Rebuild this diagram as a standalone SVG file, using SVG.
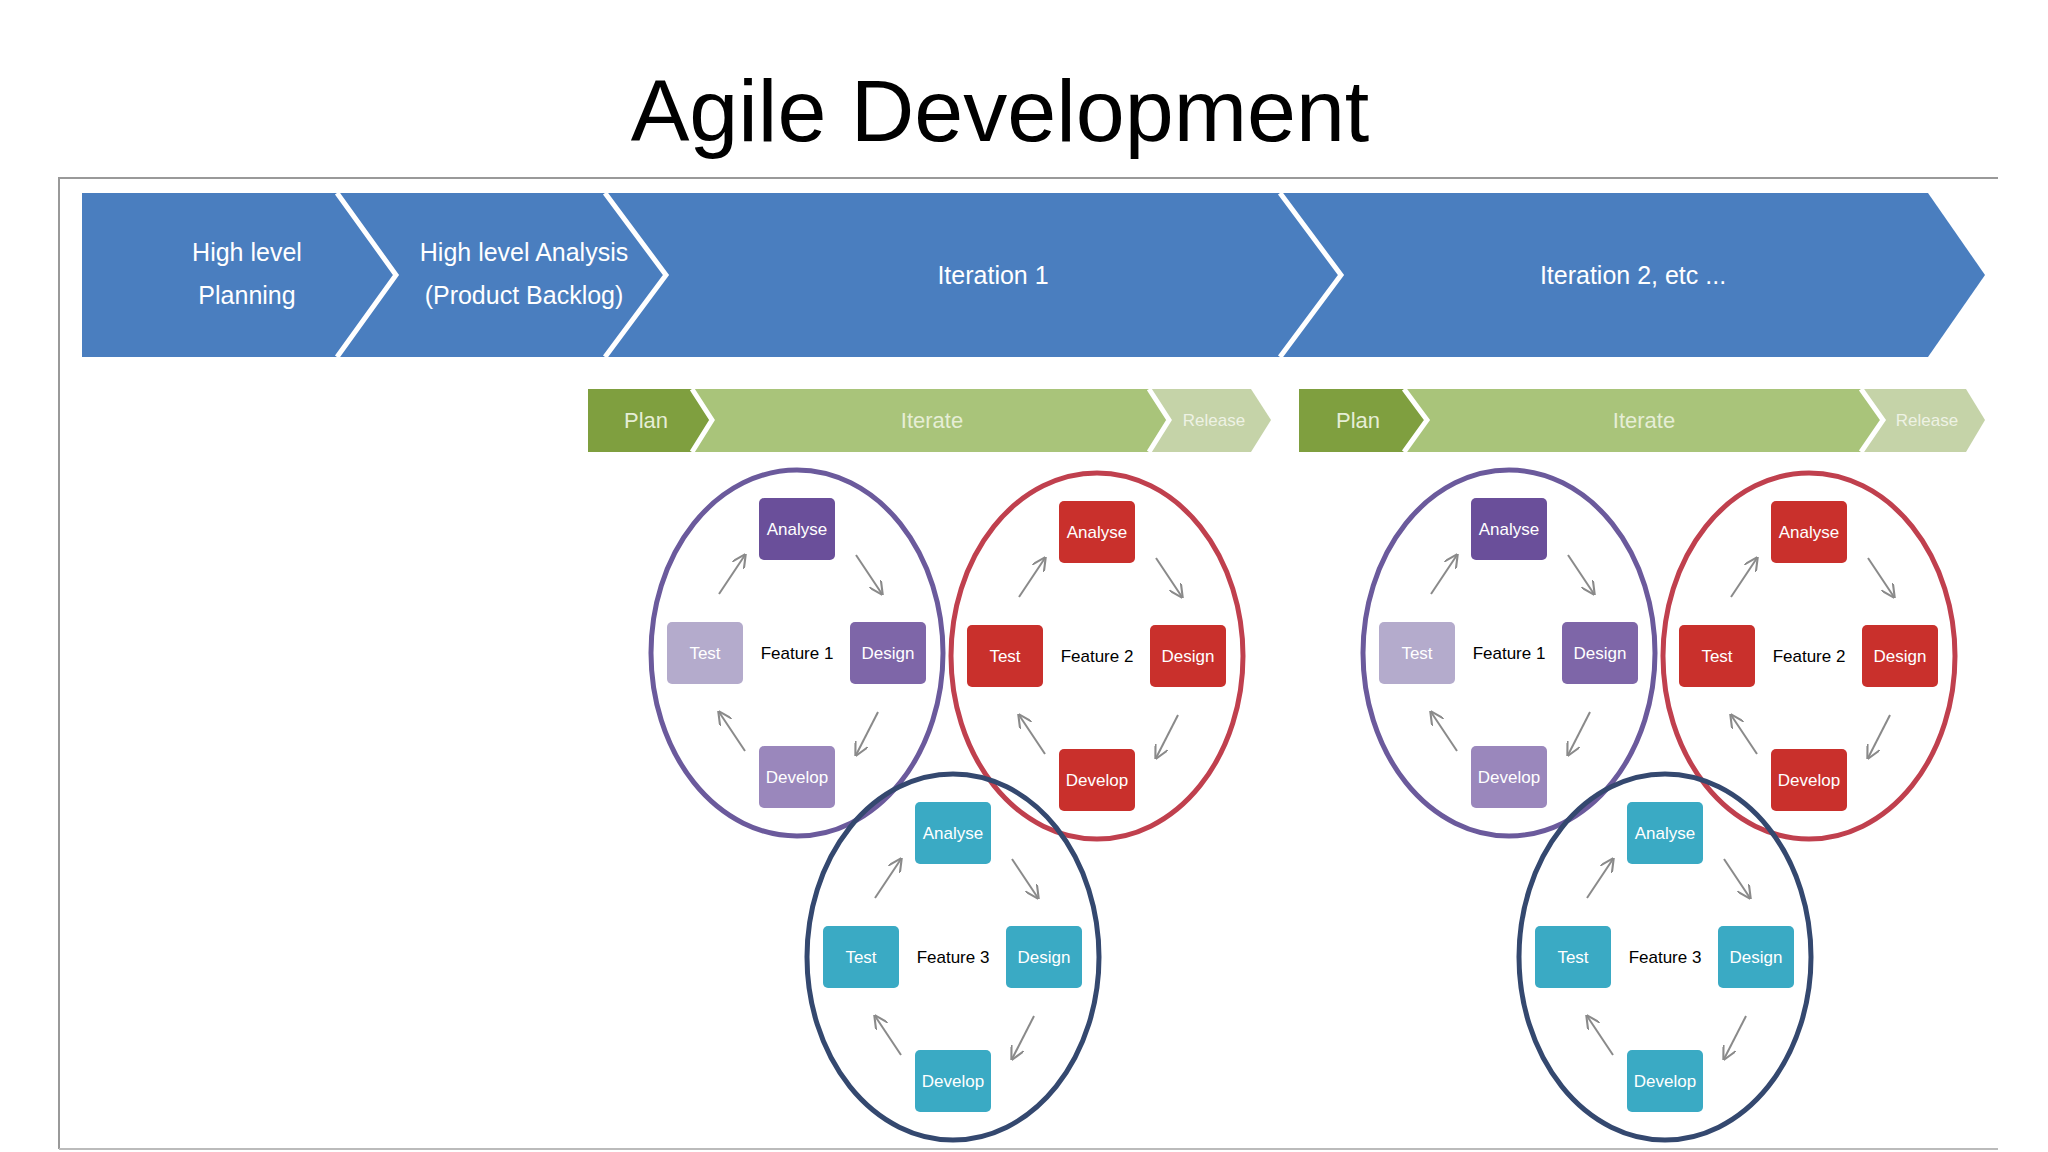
<svg xmlns="http://www.w3.org/2000/svg" width="2048" height="1152" viewBox="0 0 2048 1152">
<style>
text{font-family:"Liberation Sans",Arial,sans-serif}
.t{font-size:88px;fill:#000}
.bl{fill:#4a7ebf}
.bt{font-size:25px;fill:#fff;text-anchor:middle}
.gt{font-size:22px;fill:#e6eed6;text-anchor:middle}
.rl{font-size:17px;fill:#eef2e4;text-anchor:middle}
.sep{fill:none;stroke:#fff;stroke-width:5}
.bx{font-size:17px;fill:#fff;text-anchor:middle}
.ft{font-size:17px;fill:#000;text-anchor:middle}
.ar{stroke:#8a8a8a;stroke-width:2;fill:none;marker-end:url(#ah)}
.c{fill:none;stroke-width:5}
</style>
<defs>
<marker id="ah" viewBox="0 0 10 10" refX="9" refY="5" markerWidth="7" markerHeight="7" orient="auto"><path d="M0,0 L10,5 L0,10" fill="none" stroke="#8a8a8a" stroke-width="1.5"/></marker>
<g id="arrows">
<line class="ar" x1="-78" y1="-59" x2="-52" y2="-98"/>
<line class="ar" x1="59" y1="-98" x2="85" y2="-59"/>
<line class="ar" x1="81" y1="59" x2="59" y2="102"/>
<line class="ar" x1="-52" y1="98" x2="-78" y2="59"/>
</g>
</defs>
<rect width="2048" height="1152" fill="#fff"/>
<text class="t" x="1000" y="141" text-anchor="middle">Agile Development</text>
<path d="M59,1149 V178 H1998" fill="none" stroke="#999" stroke-width="2"/>
<line x1="59" y1="1149" x2="1998" y2="1149" stroke="#bbb" stroke-width="2"/>

<g id="phases">
<polygon class="bl" points="82,193 1928,193 1985,275 1928,357 82,357"/>
<polyline class="sep" points="337,193 396,275 337,357"/>
<polyline class="sep" points="605,193 666,275 605,357"/>
<polyline class="sep" points="1280,193 1341,275 1280,357"/>
<text class="bt" x="247" y="261">High level</text>
<text class="bt" x="247" y="304">Planning</text>
<text class="bt" x="524" y="261">High level Analysis</text>
<text class="bt" x="524" y="304">(Product Backlog)</text>
<text class="bt" x="993" y="284">Iteration 1</text>
<text class="bt" x="1633" y="284">Iteration 2, etc ...</text>
</g>

<g id="iter1-bar">
<polygon fill="#c5d3a8" points="1140,389 1251,389 1271,420 1251,452 1140,452"/>
<polygon fill="#a9c47a" points="692,389 1149,389 1169,420 1149,452 692,452 712,420"/>
<polygon fill="#7f9f3f" points="588,389 692,389 712,420 692,452 588,452"/>
<polyline class="sep" points="1149,389 1169,420 1149,452" stroke-width="3"/>
<polyline class="sep" points="692,389 712,420 692,452" stroke-width="3"/>
<text class="gt" x="646" y="428">Plan</text>
<text class="gt" x="932" y="428">Iterate</text>
<text class="rl" x="1214" y="426">Release</text>
</g>
<g id="iter2-bar">
<polygon fill="#c5d3a8" points="1850,389 1966,389 1985,420 1966,452 1850,452"/>
<polygon fill="#a9c47a" points="1404,389 1861,389 1883,420 1861,452 1404,452 1427,420"/>
<polygon fill="#7f9f3f" points="1299,389 1404,389 1427,420 1404,452 1299,452"/>
<polyline class="sep" points="1861,389 1883,420 1861,452" stroke-width="3"/>
<polyline class="sep" points="1404,389 1427,420 1404,452" stroke-width="3"/>
<text class="gt" x="1358" y="428">Plan</text>
<text class="gt" x="1644" y="428">Iterate</text>
<text class="rl" x="1927" y="426">Release</text>
</g>

<g id="circles">
<ellipse class="c" cx="797" cy="653" rx="146" ry="183" stroke="#6b5a9c"/>
<ellipse class="c" cx="1097" cy="656" rx="146" ry="183" stroke="#c0404e"/>
<ellipse class="c" cx="953" cy="957" rx="146" ry="183" stroke="#34486f"/>
<ellipse class="c" cx="1509" cy="653" rx="146" ry="183" stroke="#6b5a9c"/>
<ellipse class="c" cx="1809" cy="656" rx="146" ry="183" stroke="#c0404e"/>
<ellipse class="c" cx="1665" cy="957" rx="146" ry="183" stroke="#34486f"/>
</g>

<g id="connectors">
<use href="#arrows" transform="translate(797,653)"/>
<use href="#arrows" transform="translate(1097,656)"/>
<use href="#arrows" transform="translate(953,957)"/>
<use href="#arrows" transform="translate(1509,653)"/>
<use href="#arrows" transform="translate(1809,656)"/>
<use href="#arrows" transform="translate(1665,957)"/>
</g>

<g id="i1-feature1" transform="translate(797,653)">
<rect x="-38" y="-155" width="76" height="62" rx="5" fill="#6a4f9a"/><text class="bx" y="-118">Analyse</text>
<rect x="53" y="-31" width="76" height="62" rx="5" fill="#7e66a8"/><text class="bx" x="91" y="6">Design</text>
<rect x="-38" y="93" width="76" height="62" rx="5" fill="#9a87bc"/><text class="bx" y="130">Develop</text>
<rect x="-130" y="-31" width="76" height="62" rx="5" fill="#b4abcc"/><text class="bx" x="-92" y="6">Test</text>
<text class="ft" y="6">Feature 1</text>
</g>
<g id="i1-feature2" transform="translate(1097,656)">
<rect x="-38" y="-155" width="76" height="62" rx="5" fill="#c9302c"/><text class="bx" y="-118">Analyse</text>
<rect x="53" y="-31" width="76" height="62" rx="5" fill="#c9302c"/><text class="bx" x="91" y="6">Design</text>
<rect x="-38" y="93" width="76" height="62" rx="5" fill="#c9302c"/><text class="bx" y="130">Develop</text>
<rect x="-130" y="-31" width="76" height="62" rx="5" fill="#c9302c"/><text class="bx" x="-92" y="6">Test</text>
<text class="ft" y="6">Feature 2</text>
</g>
<g id="i1-feature3" transform="translate(953,957)">
<rect x="-38" y="-155" width="76" height="62" rx="5" fill="#3aaac4"/><text class="bx" y="-118">Analyse</text>
<rect x="53" y="-31" width="76" height="62" rx="5" fill="#3aaac4"/><text class="bx" x="91" y="6">Design</text>
<rect x="-38" y="93" width="76" height="62" rx="5" fill="#3aaac4"/><text class="bx" y="130">Develop</text>
<rect x="-130" y="-31" width="76" height="62" rx="5" fill="#3aaac4"/><text class="bx" x="-92" y="6">Test</text>
<text class="ft" y="6">Feature 3</text>
</g>
<g id="i2-feature1" transform="translate(1509,653)">
<rect x="-38" y="-155" width="76" height="62" rx="5" fill="#6a4f9a"/><text class="bx" y="-118">Analyse</text>
<rect x="53" y="-31" width="76" height="62" rx="5" fill="#7e66a8"/><text class="bx" x="91" y="6">Design</text>
<rect x="-38" y="93" width="76" height="62" rx="5" fill="#9a87bc"/><text class="bx" y="130">Develop</text>
<rect x="-130" y="-31" width="76" height="62" rx="5" fill="#b4abcc"/><text class="bx" x="-92" y="6">Test</text>
<text class="ft" y="6">Feature 1</text>
</g>
<g id="i2-feature2" transform="translate(1809,656)">
<rect x="-38" y="-155" width="76" height="62" rx="5" fill="#c9302c"/><text class="bx" y="-118">Analyse</text>
<rect x="53" y="-31" width="76" height="62" rx="5" fill="#c9302c"/><text class="bx" x="91" y="6">Design</text>
<rect x="-38" y="93" width="76" height="62" rx="5" fill="#c9302c"/><text class="bx" y="130">Develop</text>
<rect x="-130" y="-31" width="76" height="62" rx="5" fill="#c9302c"/><text class="bx" x="-92" y="6">Test</text>
<text class="ft" y="6">Feature 2</text>
</g>
<g id="i2-feature3" transform="translate(1665,957)">
<rect x="-38" y="-155" width="76" height="62" rx="5" fill="#3aaac4"/><text class="bx" y="-118">Analyse</text>
<rect x="53" y="-31" width="76" height="62" rx="5" fill="#3aaac4"/><text class="bx" x="91" y="6">Design</text>
<rect x="-38" y="93" width="76" height="62" rx="5" fill="#3aaac4"/><text class="bx" y="130">Develop</text>
<rect x="-130" y="-31" width="76" height="62" rx="5" fill="#3aaac4"/><text class="bx" x="-92" y="6">Test</text>
<text class="ft" y="6">Feature 3</text>
</g>
</svg>
